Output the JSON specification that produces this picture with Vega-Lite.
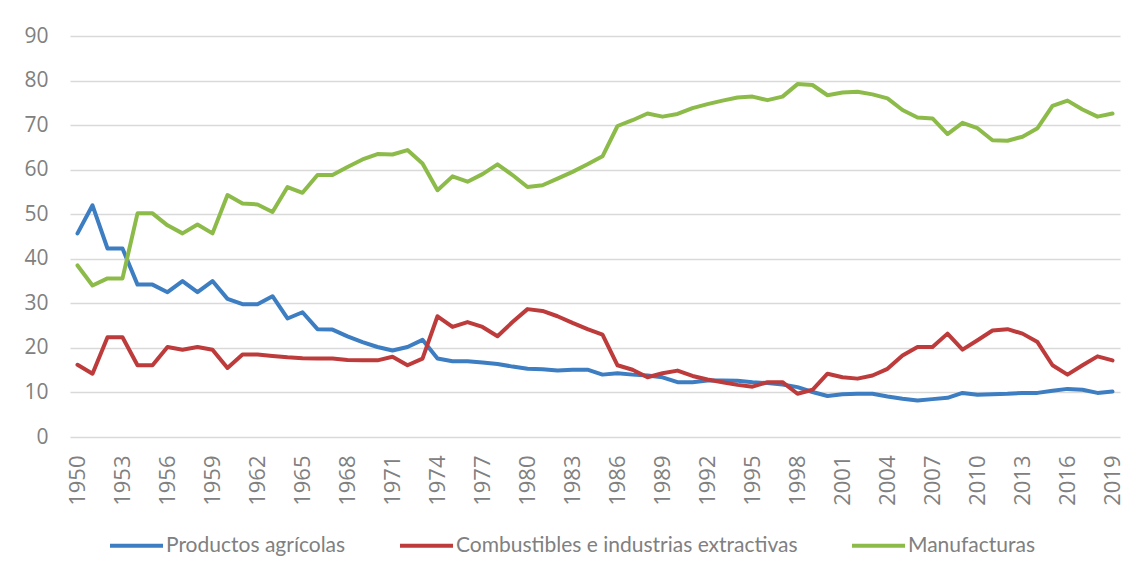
{
  "$schema": "https://vega.github.io/schema/vega-lite/v6.json",
  "width": 1050,
  "height": 401,
  "autosize": "none",
  "padding": {"left": 70, "top": 36, "right": 6, "bottom": 125},
  "background": "white",
  "config": {"view": {"stroke": null}},
  "data": {"values": [
    {"year":1950,"serie":"Productos agrícolas","value":45.7},{"year":1950,"serie":"Combustibles e industrias extractivas","value":16.2},{"year":1950,"serie":"Manufacturas","value":38.5},
    {"year":1951,"serie":"Productos agrícolas","value":52.0},{"year":1951,"serie":"Combustibles e industrias extractivas","value":14.2},{"year":1951,"serie":"Manufacturas","value":34.0},
    {"year":1952,"serie":"Productos agrícolas","value":42.3},{"year":1952,"serie":"Combustibles e industrias extractivas","value":22.4},{"year":1952,"serie":"Manufacturas","value":35.6},
    {"year":1953,"serie":"Productos agrícolas","value":42.3},{"year":1953,"serie":"Combustibles e industrias extractivas","value":22.4},{"year":1953,"serie":"Manufacturas","value":35.6},
    {"year":1954,"serie":"Productos agrícolas","value":34.2},{"year":1954,"serie":"Combustibles e industrias extractivas","value":16.1},{"year":1954,"serie":"Manufacturas","value":50.2},
    {"year":1955,"serie":"Productos agrícolas","value":34.2},{"year":1955,"serie":"Combustibles e industrias extractivas","value":16.1},{"year":1955,"serie":"Manufacturas","value":50.2},
    {"year":1956,"serie":"Productos agrícolas","value":32.5},{"year":1956,"serie":"Combustibles e industrias extractivas","value":20.2},{"year":1956,"serie":"Manufacturas","value":47.5},
    {"year":1957,"serie":"Productos agrícolas","value":35.0},{"year":1957,"serie":"Combustibles e industrias extractivas","value":19.6},{"year":1957,"serie":"Manufacturas","value":45.7},
    {"year":1958,"serie":"Productos agrícolas","value":32.5},{"year":1958,"serie":"Combustibles e industrias extractivas","value":20.2},{"year":1958,"serie":"Manufacturas","value":47.7},
    {"year":1959,"serie":"Productos agrícolas","value":35.0},{"year":1959,"serie":"Combustibles e industrias extractivas","value":19.6},{"year":1959,"serie":"Manufacturas","value":45.7},
    {"year":1960,"serie":"Productos agrícolas","value":31.0},{"year":1960,"serie":"Combustibles e industrias extractivas","value":15.5},{"year":1960,"serie":"Manufacturas","value":54.3},
    {"year":1961,"serie":"Productos agrícolas","value":29.8},{"year":1961,"serie":"Combustibles e industrias extractivas","value":18.5},{"year":1961,"serie":"Manufacturas","value":52.4},
    {"year":1962,"serie":"Productos agrícolas","value":29.8},{"year":1962,"serie":"Combustibles e industrias extractivas","value":18.5},{"year":1962,"serie":"Manufacturas","value":52.2},
    {"year":1963,"serie":"Productos agrícolas","value":31.6},{"year":1963,"serie":"Combustibles e industrias extractivas","value":18.2},{"year":1963,"serie":"Manufacturas","value":50.5},
    {"year":1964,"serie":"Productos agrícolas","value":26.6},{"year":1964,"serie":"Combustibles e industrias extractivas","value":17.9},{"year":1964,"serie":"Manufacturas","value":56.1},
    {"year":1965,"serie":"Productos agrícolas","value":28.0},{"year":1965,"serie":"Combustibles e industrias extractivas","value":17.7},{"year":1965,"serie":"Manufacturas","value":54.8},
    {"year":1966,"serie":"Productos agrícolas","value":24.2},{"year":1966,"serie":"Combustibles e industrias extractivas","value":17.6},{"year":1966,"serie":"Manufacturas","value":58.8},
    {"year":1967,"serie":"Productos agrícolas","value":24.1},{"year":1967,"serie":"Combustibles e industrias extractivas","value":17.6},{"year":1967,"serie":"Manufacturas","value":58.8},
    {"year":1968,"serie":"Productos agrícolas","value":22.6},{"year":1968,"serie":"Combustibles e industrias extractivas","value":17.3},{"year":1968,"serie":"Manufacturas","value":60.6},
    {"year":1969,"serie":"Productos agrícolas","value":21.3},{"year":1969,"serie":"Combustibles e industrias extractivas","value":17.2},{"year":1969,"serie":"Manufacturas","value":62.3},
    {"year":1970,"serie":"Productos agrícolas","value":20.2},{"year":1970,"serie":"Combustibles e industrias extractivas","value":17.2},{"year":1970,"serie":"Manufacturas","value":63.5},
    {"year":1971,"serie":"Productos agrícolas","value":19.4},{"year":1971,"serie":"Combustibles e industrias extractivas","value":18.0},{"year":1971,"serie":"Manufacturas","value":63.4},
    {"year":1972,"serie":"Productos agrícolas","value":20.2},{"year":1972,"serie":"Combustibles e industrias extractivas","value":16.1},{"year":1972,"serie":"Manufacturas","value":64.4},
    {"year":1973,"serie":"Productos agrícolas","value":21.8},{"year":1973,"serie":"Combustibles e industrias extractivas","value":17.6},{"year":1973,"serie":"Manufacturas","value":61.4},
    {"year":1974,"serie":"Productos agrícolas","value":17.6},{"year":1974,"serie":"Combustibles e industrias extractivas","value":27.1},{"year":1974,"serie":"Manufacturas","value":55.4},
    {"year":1975,"serie":"Productos agrícolas","value":17.0},{"year":1975,"serie":"Combustibles e industrias extractivas","value":24.7},{"year":1975,"serie":"Manufacturas","value":58.5},
    {"year":1976,"serie":"Productos agrícolas","value":17.0},{"year":1976,"serie":"Combustibles e industrias extractivas","value":25.8},{"year":1976,"serie":"Manufacturas","value":57.3},
    {"year":1977,"serie":"Productos agrícolas","value":16.7},{"year":1977,"serie":"Combustibles e industrias extractivas","value":24.7},{"year":1977,"serie":"Manufacturas","value":59.0},
    {"year":1978,"serie":"Productos agrícolas","value":16.4},{"year":1978,"serie":"Combustibles e industrias extractivas","value":22.6},{"year":1978,"serie":"Manufacturas","value":61.2},
    {"year":1979,"serie":"Productos agrícolas","value":15.8},{"year":1979,"serie":"Combustibles e industrias extractivas","value":25.8},{"year":1979,"serie":"Manufacturas","value":58.8},
    {"year":1980,"serie":"Productos agrícolas","value":15.3},{"year":1980,"serie":"Combustibles e industrias extractivas","value":28.7},{"year":1980,"serie":"Manufacturas","value":56.1},
    {"year":1981,"serie":"Productos agrícolas","value":15.2},{"year":1981,"serie":"Combustibles e industrias extractivas","value":28.3},{"year":1981,"serie":"Manufacturas","value":56.5},
    {"year":1982,"serie":"Productos agrícolas","value":14.9},{"year":1982,"serie":"Combustibles e industrias extractivas","value":27.1},{"year":1982,"serie":"Manufacturas","value":58.0},
    {"year":1983,"serie":"Productos agrícolas","value":15.1},{"year":1983,"serie":"Combustibles e industrias extractivas","value":25.6},{"year":1983,"serie":"Manufacturas","value":59.5},
    {"year":1984,"serie":"Productos agrícolas","value":15.1},{"year":1984,"serie":"Combustibles e industrias extractivas","value":24.2},{"year":1984,"serie":"Manufacturas","value":61.2},
    {"year":1985,"serie":"Productos agrícolas","value":14.0},{"year":1985,"serie":"Combustibles e industrias extractivas","value":23.0},{"year":1985,"serie":"Manufacturas","value":63.0},
    {"year":1986,"serie":"Productos agrícolas","value":14.3},{"year":1986,"serie":"Combustibles e industrias extractivas","value":16.1},{"year":1986,"serie":"Manufacturas","value":69.8},
    {"year":1987,"serie":"Productos agrícolas","value":14.0},{"year":1987,"serie":"Combustibles e industrias extractivas","value":15.1},{"year":1987,"serie":"Manufacturas","value":71.1},
    {"year":1988,"serie":"Productos agrícolas","value":13.8},{"year":1988,"serie":"Combustibles e industrias extractivas","value":13.4},{"year":1988,"serie":"Manufacturas","value":72.6},
    {"year":1989,"serie":"Productos agrícolas","value":13.4},{"year":1989,"serie":"Combustibles e industrias extractivas","value":14.3},{"year":1989,"serie":"Manufacturas","value":71.9},
    {"year":1990,"serie":"Productos agrícolas","value":12.3},{"year":1990,"serie":"Combustibles e industrias extractivas","value":14.9},{"year":1990,"serie":"Manufacturas","value":72.5},
    {"year":1991,"serie":"Productos agrícolas","value":12.3},{"year":1991,"serie":"Combustibles e industrias extractivas","value":13.7},{"year":1991,"serie":"Manufacturas","value":73.8},
    {"year":1992,"serie":"Productos agrícolas","value":12.7},{"year":1992,"serie":"Combustibles e industrias extractivas","value":12.9},{"year":1992,"serie":"Manufacturas","value":74.7},
    {"year":1993,"serie":"Productos agrícolas","value":12.7},{"year":1993,"serie":"Combustibles e industrias extractivas","value":12.3},{"year":1993,"serie":"Manufacturas","value":75.5},
    {"year":1994,"serie":"Productos agrícolas","value":12.6},{"year":1994,"serie":"Combustibles e industrias extractivas","value":11.7},{"year":1994,"serie":"Manufacturas","value":76.2},
    {"year":1995,"serie":"Productos agrícolas","value":12.3},{"year":1995,"serie":"Combustibles e industrias extractivas","value":11.3},{"year":1995,"serie":"Manufacturas","value":76.4},
    {"year":1996,"serie":"Productos agrícolas","value":12.1},{"year":1996,"serie":"Combustibles e industrias extractivas","value":12.3},{"year":1996,"serie":"Manufacturas","value":75.6},
    {"year":1997,"serie":"Productos agrícolas","value":11.8},{"year":1997,"serie":"Combustibles e industrias extractivas","value":12.3},{"year":1997,"serie":"Manufacturas","value":76.4},
    {"year":1998,"serie":"Productos agrícolas","value":11.2},{"year":1998,"serie":"Combustibles e industrias extractivas","value":9.7},{"year":1998,"serie":"Manufacturas","value":79.2},
    {"year":1999,"serie":"Productos agrícolas","value":10.1},{"year":1999,"serie":"Combustibles e industrias extractivas","value":10.6},{"year":1999,"serie":"Manufacturas","value":79.0},
    {"year":2000,"serie":"Productos agrícolas","value":9.2},{"year":2000,"serie":"Combustibles e industrias extractivas","value":14.2},{"year":2000,"serie":"Manufacturas","value":76.7},
    {"year":2001,"serie":"Productos agrícolas","value":9.6},{"year":2001,"serie":"Combustibles e industrias extractivas","value":13.4},{"year":2001,"serie":"Manufacturas","value":77.3},
    {"year":2002,"serie":"Productos agrícolas","value":9.7},{"year":2002,"serie":"Combustibles e industrias extractivas","value":13.1},{"year":2002,"serie":"Manufacturas","value":77.5},
    {"year":2003,"serie":"Productos agrícolas","value":9.7},{"year":2003,"serie":"Combustibles e industrias extractivas","value":13.8},{"year":2003,"serie":"Manufacturas","value":76.9},
    {"year":2004,"serie":"Productos agrícolas","value":9.1},{"year":2004,"serie":"Combustibles e industrias extractivas","value":15.3},{"year":2004,"serie":"Manufacturas","value":76.0},
    {"year":2005,"serie":"Productos agrícolas","value":8.6},{"year":2005,"serie":"Combustibles e industrias extractivas","value":18.3},{"year":2005,"serie":"Manufacturas","value":73.4},
    {"year":2006,"serie":"Productos agrícolas","value":8.2},{"year":2006,"serie":"Combustibles e industrias extractivas","value":20.2},{"year":2006,"serie":"Manufacturas","value":71.7},
    {"year":2007,"serie":"Productos agrícolas","value":8.5},{"year":2007,"serie":"Combustibles e industrias extractivas","value":20.2},{"year":2007,"serie":"Manufacturas","value":71.5},
    {"year":2008,"serie":"Productos agrícolas","value":8.8},{"year":2008,"serie":"Combustibles e industrias extractivas","value":23.2},{"year":2008,"serie":"Manufacturas","value":68.0},
    {"year":2009,"serie":"Productos agrícolas","value":9.9},{"year":2009,"serie":"Combustibles e industrias extractivas","value":19.6},{"year":2009,"serie":"Manufacturas","value":70.5},
    {"year":2010,"serie":"Productos agrícolas","value":9.5},{"year":2010,"serie":"Combustibles e industrias extractivas","value":21.7},{"year":2010,"serie":"Manufacturas","value":69.3},
    {"year":2011,"serie":"Productos agrícolas","value":9.6},{"year":2011,"serie":"Combustibles e industrias extractivas","value":23.9},{"year":2011,"serie":"Manufacturas","value":66.6},
    {"year":2012,"serie":"Productos agrícolas","value":9.7},{"year":2012,"serie":"Combustibles e industrias extractivas","value":24.2},{"year":2012,"serie":"Manufacturas","value":66.5},
    {"year":2013,"serie":"Productos agrícolas","value":9.9},{"year":2013,"serie":"Combustibles e industrias extractivas","value":23.2},{"year":2013,"serie":"Manufacturas","value":67.4},
    {"year":2014,"serie":"Productos agrícolas","value":9.9},{"year":2014,"serie":"Combustibles e industrias extractivas","value":21.3},{"year":2014,"serie":"Manufacturas","value":69.3},
    {"year":2015,"serie":"Productos agrícolas","value":10.4},{"year":2015,"serie":"Combustibles e industrias extractivas","value":16.1},{"year":2015,"serie":"Manufacturas","value":74.3},
    {"year":2016,"serie":"Productos agrícolas","value":10.8},{"year":2016,"serie":"Combustibles e industrias extractivas","value":14.0},{"year":2016,"serie":"Manufacturas","value":75.5},
    {"year":2017,"serie":"Productos agrícolas","value":10.6},{"year":2017,"serie":"Combustibles e industrias extractivas","value":16.1},{"year":2017,"serie":"Manufacturas","value":73.5},
    {"year":2018,"serie":"Productos agrícolas","value":9.9},{"year":2018,"serie":"Combustibles e industrias extractivas","value":18.1},{"year":2018,"serie":"Manufacturas","value":71.9},
    {"year":2019,"serie":"Productos agrícolas","value":10.2},{"year":2019,"serie":"Combustibles e industrias extractivas","value":17.2},{"year":2019,"serie":"Manufacturas","value":72.6}
  ]},
  "mark": {"type": "line", "strokeWidth": 4, "strokeJoin": "round", "strokeCap": "round"},
  "encoding": {
    "x": {
      "field": "year",
      "type": "ordinal",
      "scale": {"type": "point", "padding": 0.5},
      "axis": {
        "title": null,
        "values": [1950,1953,1956,1959,1962,1965,1968,1971,1974,1977,1980,1983,1986,1989,1992,1995,1998,2001,2004,2007,2010,2013,2016,2019],
        "labelAngle": -90,
        "ticks": false,
        "domain": false,
        "grid": false,
        "labelFont": "Open Sans",
        "labelFontSize": 22,
        "labelColor": "#808080",
        "labelPadding": 18
      }
    },
    "y": {
      "field": "value",
      "type": "quantitative",
      "scale": {"domain": [0, 90], "nice": false},
      "axis": {
        "title": null,
        "values": [0,10,20,30,40,50,60,70,80,90],
        "ticks": false,
        "domain": false,
        "grid": true,
        "gridColor": "#d9d9d9",
        "gridWidth": 1.5,
        "labelFont": "Open Sans",
        "labelFontSize": 21,
        "labelColor": "#808080",
        "labelPadding": 22
      }
    },
    "color": {
      "field": "serie",
      "type": "nominal",
      "scale": {
        "domain": ["Productos agrícolas", "Combustibles e industrias extractivas", "Manufacturas"],
        "range": ["#3d7dc2", "#bd3b3b", "#8dbb4a"]
      },
      "legend": {
        "title": null,
        "orient": "none",
        "direction": "horizontal",
        "legendX": 38,
        "legendY": 481,
        "symbolType": "stroke",
        "symbolSize": 2809,
        "symbolStrokeWidth": 4,
        "labelOffset": 1,
        "columnPadding": 46,
        "labelFont": "Lato",
        "labelFontSize": 21,
        "labelColor": "#808080",
        "labelLimit": 600
      }
    }
  }
}
